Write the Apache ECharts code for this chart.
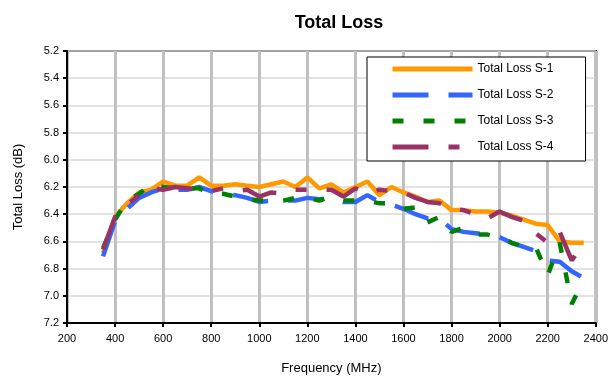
<!DOCTYPE html>
<html>
<head>
<meta charset="utf-8">
<script src="https://cdn.jsdelivr.net/npm/echarts@6/dist/echarts.min.js"></script>
<style>
  html, body { margin: 0; padding: 0; background: #fff; }
  #chart { width: 611px; height: 383px; }
</style>
</head>
<body>
<div id="chart"></div>
<script>
// frequencies (MHz)
var freq = [350, 400, 450, 500, 550, 600, 650, 700, 750, 800, 850, 900, 950, 1000,
  1050, 1100, 1150, 1200, 1250, 1300, 1350, 1400, 1450, 1500, 1550, 1600, 1650, 1700,
  1750, 1800, 1850, 1900, 1950, 2000, 2050, 2100, 2150, 2200, 2250, 2300, 2350]

// total loss (dB) per sample
var lossS1 = [6.685, 6.42, 6.32, 6.24, 6.22, 6.16, 6.19, 6.19, 6.13, 6.19, 6.19, 6.18, 6.19, 6.20,
  6.18, 6.16, 6.20, 6.13, 6.21, 6.18, 6.24, 6.20, 6.16, 6.26, 6.20, 6.24, 6.27, 6.31,
  6.30, 6.37, 6.37, 6.38, 6.38, 6.39, 6.41, 6.44, 6.47, 6.48, 6.60, 6.61, 6.61]
var lossS2 = [6.71, 6.45, 6.36, 6.28, 6.24, 6.21, 6.22, 6.22, 6.20, 6.23, 6.25, 6.26, 6.28, 6.31,
  6.30, 6.30, 6.30, 6.28, 6.29, 6.28, 6.31, 6.31, 6.26, 6.31, 6.33, 6.36, 6.40, 6.43,
  6.43, 6.51, 6.53, 6.54, 6.55, 6.57, 6.61, 6.64, 6.67, 6.74, 6.75, 6.82, 6.87]
var lossS3 = [6.65, 6.44, 6.30, 6.25, 6.18, 6.20, 6.21, 6.21, 6.21, 6.25, 6.25, 6.27, 6.29, 6.30,
  6.30, 6.30, 6.28, 6.28, 6.30, 6.27, 6.30, 6.30, 6.30, 6.32, 6.32, 6.36, 6.35, 6.46,
  6.42, 6.53, 6.50, 6.55, 6.55, 6.57, 6.61, 6.64, 6.64, 6.85, 6.61, 7.06, 6.88]
var lossS4 = [6.66, 6.42, 6.33, 6.26, 6.21, 6.22, 6.20, 6.21, 6.22, 6.23, 6.21, 6.23, 6.22, 6.27,
  6.24, 6.25, 6.22, 6.22, 6.22, 6.22, 6.27, 6.21, 6.25, 6.22, 6.23, 6.24, 6.28, 6.31,
  6.32, 6.36, 6.37, 6.40, 6.43, 6.38, 6.42, 6.45, 6.54, 6.61, 6.53, 6.74, 6.61]

var seriesNames = ['Total Loss S-1', 'Total Loss S-2', 'Total Loss S-3', 'Total Loss S-4']

function pairs(ys) {
  return freq.map(function(f, i) { return [f, ys[i]] })
}

var font = 'Arial, "Liberation Sans", sans-serif'
var chart = echarts.init(document.getElementById('chart'))

function lineSeries(name, ys, color, type) {
  return {
    name: name,
    type: 'line',
    data: pairs(ys),
    symbol: 'none',
    showSymbol: false,
    lineStyle: { color: color, width: 4.5, type: type, cap: 'butt' },
    itemStyle: { color: color }
  }
}

chart.setOption({
  animation: false,
  title: {
    text: 'Total Loss',
    left: 334,
    textAlign: 'center',
    top: 9,
    textStyle: { fontFamily: font, fontSize: 18, fontWeight: 'bold', color: '#000' }
  },
  legend: {
    orient: 'vertical',
    left: 367,
    top: 57,
    padding: [6, 32, 8, 23],
    itemWidth: 80,
    itemHeight: 14,
    itemGap: 14,
    backgroundColor: '#fff',
    borderColor: '#000',
    borderWidth: 1,
    itemStyle: { opacity: 0 },
    lineStyle: { width: 5 },
    data: seriesNames,
    textStyle: { fontFamily: font, fontSize: 12, color: '#000' }
  },
  grid: {
    left: 67,
    right: 14,
    top: 51,
    bottom: 60,
    show: true,
    borderColor: '#000',
    borderWidth: 2,
    containLabel: false
  },
  xAxis: {
    type: 'value',
    min: 200,
    max: 2400,
    interval: 200,
    name: 'Frequency (MHz)',
    nameLocation: 'middle',
    nameGap: 39,
    nameTextStyle: { fontFamily: font, fontSize: 13, color: '#000' },
    axisLine: { lineStyle: { color: '#000', width: 2 } },
    axisTick: { show: true, length: 4, lineStyle: { color: '#000', width: 2 } },
    axisLabel: {
      fontFamily: font, fontSize: 11, color: '#000', margin: 10,
      formatter: function(v) { return String(v) }
    },
    splitLine: { show: true, lineStyle: { color: '#c0c0c0', width: 3 } }
  },
  yAxis: {
    type: 'value',
    inverse: true,
    min: 5.2,
    max: 7.2,
    interval: 0.2,
    name: 'Total Loss (dB)',
    nameLocation: 'middle',
    nameGap: 42,
    nameTextStyle: { fontFamily: font, fontSize: 13, color: '#000' },
    axisLine: { lineStyle: { color: '#000', width: 2 } },
    axisTick: { show: true, length: 4, lineStyle: { color: '#000', width: 2 } },
    axisLabel: {
      fontFamily: font, fontSize: 11, color: '#000', margin: 8,
      formatter: function(v) { return v.toFixed(1) }
    },
    splitLine: { show: true, lineStyle: { color: '#d9d9d9', width: 1.5 } }
  },
  series: [
    lineSeries(seriesNames[0], lossS1, '#ff9900', 'solid'),
    lineSeries(seriesNames[1], lossS2, '#3366ff', [36, 20]),
    lineSeries(seriesNames[2], lossS3, '#008000', [11, 20]),
    lineSeries(seriesNames[3], lossS4, '#993366', [36, 20, 11, 20])
  ]
})
</script>
</body>
</html>
